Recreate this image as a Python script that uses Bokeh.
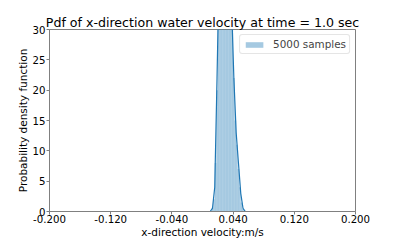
from bokeh.plotting import figure
from bokeh.models import Range1d, FixedTicker
from bokeh.embed import file_html
from bokeh.resources import INLINE

# ---- data ----
hist_edges = [0.012, 0.014, 0.016, 0.018, 0.020, 0.022, 0.024, 0.026, 0.028, 0.030,
              0.032, 0.034, 0.036, 0.038, 0.040, 0.042, 0.044, 0.046, 0.048, 0.050,
              0.052, 0.054]
hist_density = [0.6, 2, 8, 20, 35, 46, 55, 60, 63, 61, 57, 50, 40, 30, 22, 15, 11, 7, 4, 1.5, 0.4]

kde_x = [0.010, 0.013, 0.016, 0.019, 0.022, 0.026, 0.030, 0.034, 0.038, 0.041,
         0.044, 0.047, 0.050, 0.053, 0.056]
kde_y = [0, 0.5, 4, 22, 42, 58, 62, 55, 34, 22, 13, 8, 3, 0.5, 0]

x_ticks = [-0.2, -0.12, -0.04, 0.04, 0.12, 0.2]
x_tick_labels = ["-0.200", "-0.120", "-0.040", "0.040", "0.120", "0.200"]
y_ticks = [0, 5, 10, 15, 20, 25, 30]

FONT = "DejaVu Sans"
GREY = "#808080"

p = figure(width=395, height=240, output_backend="svg", toolbar_location=None,
           x_range=Range1d(-0.2, 0.2), y_range=Range1d(0, 30),
           min_border_left=49, min_border_right=40, min_border_top=29, min_border_bottom=26)

p.quad(left=hist_edges[:-1], right=hist_edges[1:], top=hist_density, bottom=0,
       fill_color="#1f77b4", fill_alpha=0.4, line_color=None, legend_label="5000 samples")
p.line(kde_x, kde_y, line_color="#1f77b4", line_width=1.2)

p.title.text = "Pdf of x-direction water velocity at time = 1.0 sec"
p.title.align = "center"
p.title.text_font = FONT
p.title.text_font_size = "12.6px"
p.title.text_font_style = "normal"
p.title.text_color = "black"
p.title.standoff = 0

p.xgrid.visible = False
p.ygrid.visible = False
p.outline_line_color = GREY

p.xaxis.ticker = FixedTicker(ticks=x_ticks)
p.xaxis.major_label_overrides = {t: l for t, l in zip(x_ticks, x_tick_labels)}
p.yaxis.ticker = FixedTicker(ticks=y_ticks)
p.xaxis.axis_label = "x-direction velocity:m/s"
p.yaxis.axis_label = "Probability density function"

for ax in (p.xaxis[0], p.yaxis[0]):
    ax.axis_line_color = GREY
    ax.major_tick_line_color = GREY
    ax.minor_tick_line_color = None
    ax.major_tick_out = 3
    ax.major_tick_in = 0
    ax.major_label_text_font = FONT
    ax.major_label_text_font_size = "10.2px"
    ax.major_label_text_color = "black"
    ax.axis_label_text_font = FONT
    ax.axis_label_text_font_size = "10.5px"
    ax.axis_label_text_font_style = "normal"
    ax.axis_label_text_color = "black"

p.xaxis.major_label_standoff = 0
p.xaxis.axis_label_standoff = 0
p.yaxis.major_label_standoff = 1
p.yaxis.axis_label_standoff = 1

p.legend.location = "top_right"
p.legend.label_text_font = FONT
p.legend.label_text_font_size = "10.4px"
p.legend.border_line_color = "#cccccc"
p.legend.border_radius = 3
p.legend.glyph_width = 22
p.legend.glyph_height = 7
p.legend.padding = 3
p.legend.margin = 5
p.legend.spacing = 0
p.legend.label_standoff = 8
p.legend.label_height = 12

open("out.html", "w").write(file_html(p, INLINE))
